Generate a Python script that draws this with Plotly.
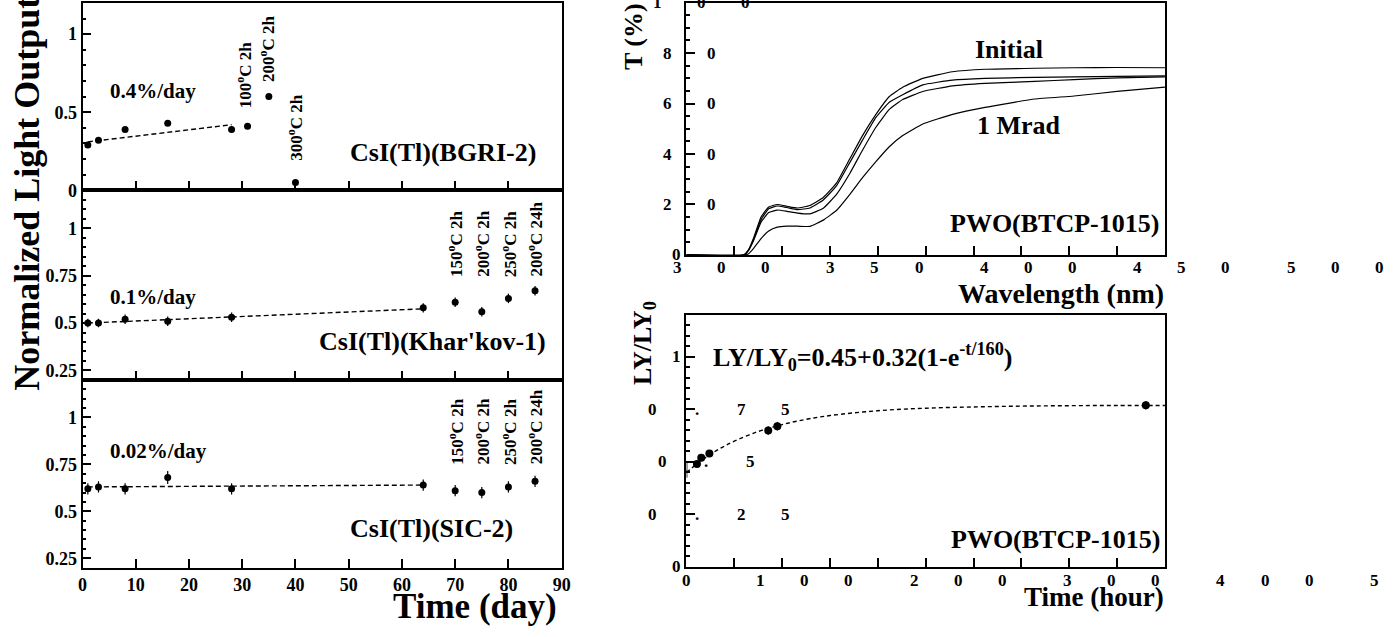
import plotly.graph_objects as go

W, H = 1397, 637
FONT = "Liberation Serif"

# ---------------- data ----------------
# CsI(Tl)(BGRI-2)
bgri_day = [1, 3, 8, 16, 28, 31, 35, 40]
bgri_lo = [0.29, 0.32, 0.39, 0.43, 0.39, 0.41, 0.60, 0.05]
bgri_err = [0.01, 0.01, 0.01, 0.01, 0.01, 0.01, 0.01, 0.01]
bgri_fit_day = [1, 28]
bgri_fit = [0.31, 0.42]
bgri_notes = ["100<sup>o</sup>C 2h", "200<sup>o</sup>C 2h", "300<sup>o</sup>C 2h"]

# CsI(Tl)(Khar'kov-1)
khar_day = [1, 3, 8, 16, 28, 64, 70, 75, 80, 85]
khar_lo = [0.50, 0.50, 0.52, 0.51, 0.53, 0.58, 0.61, 0.56, 0.63, 0.67]
khar_err = [0.022, 0.022, 0.025, 0.025, 0.025, 0.025, 0.025, 0.025, 0.025, 0.025]
khar_fit_day = [1, 64]
khar_fit = [0.50, 0.575]

# CsI(Tl)(SIC-2)
sic_day = [1, 3, 8, 16, 28, 64, 70, 75, 80, 85]
sic_lo = [0.62, 0.63, 0.62, 0.68, 0.62, 0.64, 0.61, 0.60, 0.63, 0.66]
sic_err = [0.03, 0.03, 0.03, 0.035, 0.03, 0.03, 0.03, 0.03, 0.03, 0.03]
sic_fit_day = [1, 64]
sic_fit = [0.63, 0.64]

anneal_notes = ["150<sup>o</sup>C 2h", "200<sup>o</sup>C 2h", "250<sup>o</sup>C 2h", "200<sup>o</sup>C 24h"]
anneal_day = [70, 75, 80, 85]

# PWO transmission (T %, vs wavelength nm)
wl = [300, 360, 365, 370, 378, 386, 395, 405, 416, 429, 443, 457, 471, 484,
      498, 512, 526, 547, 578, 612, 664, 705, 750, 800]
t_initial = [0, 0, 2.0, 6.5, 15.0, 19.0, 20.0, 19.3, 18.6, 19.6, 22.8, 28.6, 38.3, 47.3,
             55.7, 62.8, 66.5, 70.0, 72.6, 73.6, 74.0, 74.2, 74.3, 74.2]
t_dose2 = [0, 0, 2.0, 6.0, 14.0, 18.3, 19.4, 18.8, 18.0, 18.6, 21.8, 27.5, 36.8, 45.5,
           54.5, 60.5, 63.5, 67.4, 69.3, 70.0, 70.4, 70.6, 70.8, 71.0]
t_dose3 = [0, 0, 1.8, 5.5, 13.0, 16.8, 17.8, 17.3, 16.6, 16.3, 18.5, 24.1, 32.5, 41.5,
           50.6, 57.7, 61.6, 64.8, 67.0, 68.0, 68.8, 69.5, 70.2, 70.6]
t_1mrad = [0, 0, 0.5, 2.5, 6.5, 9.5, 11.0, 11.4, 11.4, 11.3, 13.8, 17.7, 24.1, 30.6,
           37.0, 42.9, 47.3, 51.9, 55.7, 58.5, 61.8, 63.0, 64.8, 66.5]

# PWO light-yield recovery (vs hour)
ly_hour = [22, 31, 48, 171, 190, 960]
ly_val = [0.49, 0.52, 0.54, 0.65, 0.67, 0.77]
ly_err = [0.015, 0.015, 0.015, 0.02, 0.02, 0.02]
ly0_hour = [1]          # point on the frame edge: only its error bar shows
ly0_val = [0.46]
ly0_err = [0.035]
ly_fit_hour = [0, 25, 50, 75, 100, 150, 200, 250, 300, 400, 500, 600, 700, 800, 900, 1000]
ly_fit = [0.45, 0.496, 0.536, 0.570, 0.599, 0.645, 0.678, 0.703, 0.721, 0.744,
          0.756, 0.762, 0.766, 0.768, 0.769, 0.769]

# tick labels of the right-hand panels (rendered garbled, as in the source)
wl_tick_labels = ["300", "350", "400", "450", "500", "550", "600", "650", "700", "750", "800"]
t_tick_vals = [0, 20, 40, 60, 80, 100]
t_tick_labels = ["0", "20", "40", "60", "80", "100"]
hour_tick_labels = ["0", "100", "200", "300", "400", "500", "600", "700", "800", "900", "1000"]
lyr_tick_vals = [0, 0.25, 0.5, 0.75, 1]
lyr_tick_labels = ["0", "0.25", "0.5", "0.75", "1"]

# ---------------- layout geometry (pixels) ----------------
LX0, LX1 = 78.3, 562.3
PANELS_Y = [(3.0, 193.3), (193.3, 386.0), (386.0, 576.7)]
RX0, RX1 = 688.3, 1171.7
RT = (2.7, 259.0)
RB = (320.0, 576.0)


def xd(a, b):
    return [a / W, b / W]


def yd(top, bot):
    return [1 - bot / H, 1 - top / H]


fig = go.Figure()

tickfont = dict(family=FONT, size=18, color="black", weight="bold")
common = dict(showline=True, linewidth=1.6, linecolor="black", mirror=True,
              ticks="inside", tickwidth=1.5, tickcolor="black", ticklen=9,
              showgrid=False, zeroline=False, tickfont=tickfont)

mk = dict(color="black", size=7, symbol="circle")
fitline = dict(color="black", width=1.4, dash="5px,3px")


def errbar(arr):
    return dict(type="data", array=arr, visible=True, thickness=1.2, width=0, color="black")


left_sets = [
    (bgri_day, bgri_lo, bgri_err, bgri_fit_day, bgri_fit),
    (khar_day, khar_lo, khar_err, khar_fit_day, khar_fit),
    (sic_day, sic_lo, sic_err, sic_fit_day, sic_fit),
]
for i, (d, v, e, fd, fv) in enumerate(left_sets):
    n = i + 1
    xa = "x" if n == 1 else f"x{n}"
    ya = "y" if n == 1 else f"y{n}"
    fig.add_trace(go.Scatter(x=fd, y=fv, mode="lines", line=fitline, xaxis=xa, yaxis=ya,
                             showlegend=False, hoverinfo="skip"))
    fig.add_trace(go.Scatter(x=d, y=v, mode="markers", marker=mk, error_y=errbar(e),
                             xaxis=xa, yaxis=ya, showlegend=False))

# right top: transmission
for curve in [t_initial, t_dose2, t_dose3, t_1mrad]:
    fig.add_trace(go.Scatter(x=wl, y=curve, mode="lines",
                             line=dict(color="black", width=1.2, shape="spline", smoothing=0.4),
                             xaxis="x4", yaxis="y4", showlegend=False))

# right bottom: light yield
fig.add_trace(go.Scatter(x=ly_fit_hour, y=ly_fit, mode="lines",
                         line=dict(color="black", width=1.4, dash="4px,3px", shape="spline"),
                         xaxis="x5", yaxis="y5", showlegend=False, hoverinfo="skip"))
fig.add_trace(go.Scatter(x=ly0_hour, y=ly0_val, mode="markers",
                         marker=dict(color="black", size=1),
                         error_y=dict(type="data", array=ly0_err, visible=True, thickness=1,
                                      width=0, color="black"),
                         xaxis="x5", yaxis="y5", showlegend=False))
fig.add_trace(go.Scatter(x=ly_hour, y=ly_val, mode="markers",
                         marker=dict(color="black", size=8, line=dict(width=0)),
                         error_y=errbar(ly_err), xaxis="x5", yaxis="y5", showlegend=False))

layout = dict(
    width=W, height=H, margin=dict(l=0, r=0, t=0, b=0),
    paper_bgcolor="white", plot_bgcolor="white", showlegend=False,
)
for i, (top, bot) in enumerate(PANELS_Y):
    n = i + 1
    xk = "xaxis" if n == 1 else f"xaxis{n}"
    yk = "yaxis" if n == 1 else f"yaxis{n}"
    ya = "y" if n == 1 else f"y{n}"
    xa = "x" if n == 1 else f"x{n}"
    layout[xk] = dict(common, domain=xd(LX0, LX1), range=[0, 90], tickmode="linear", tick0=0,
                      dtick=10, anchor=ya, showticklabels=(n == 3))
    if n == 1:
        ydict = dict(range=[0, 1.2], tick0=0, dtick=0.5,
                     minor=dict(dtick=0.1, tick0=0, ticklen=4, ticks="inside", tickwidth=1.5,
                                tickcolor="black"))
    else:
        ydict = dict(range=[0.2, 1.2], tick0=0.25, dtick=0.25,
                     minor=dict(dtick=0.05, tick0=0, ticklen=4, ticks="inside", tickwidth=1.5,
                                tickcolor="black"))
    layout[yk] = dict(common, domain=yd(top, bot), tickmode="linear", anchor=xa, **ydict)

layout["xaxis4"] = dict(common, domain=xd(RX0, RX1), range=[300, 800], tickmode="linear",
                        tick0=300, dtick=50, anchor="y4", showticklabels=False)
layout["yaxis4"] = dict(common, domain=yd(*RT), range=[0, 100], tickmode="linear", tick0=0,
                        dtick=20, anchor="x4", showticklabels=False,
                        minor=dict(dtick=5, tick0=0, ticklen=4, ticks="inside", tickwidth=1.5,
                                   tickcolor="black"))
layout["xaxis5"] = dict(common, domain=xd(RX0, RX1), range=[0, 1000], tickmode="linear",
                        tick0=0, dtick=100, anchor="y5", showticklabels=False)
layout["yaxis5"] = dict(common, domain=yd(*RB), range=[0, 1.2], tickmode="linear", tick0=0,
                        dtick=0.25, anchor="x5", showticklabels=False,
                        minor=dict(dtick=0.05, tick0=0, ticklen=4, ticks="inside", tickwidth=1.5,
                                   tickcolor="black"))
fig.update_layout(**layout)


def txt(s, px, py, size, xanchor="center", yanchor="middle", angle=0):
    fig.add_annotation(text=s, x=px / W, y=1 - py / H, xref="paper", yref="paper",
                       showarrow=False, xanchor=xanchor, yanchor=yanchor, textangle=angle,
                       font=dict(family=FONT, size=size, color="black", weight="bold"))


def note(s, x, y, xa, ya, xshift=0):
    fig.add_annotation(text=s, x=x, y=y, xref=xa, yref=ya, showarrow=False,
                       xanchor="center", yanchor="bottom", textangle=-90, xshift=xshift,
                       font=dict(family=FONT, size=17, color="black", weight="bold"))


# annealing notes
note(bgri_notes[0], bgri_day[5], 0.51, "x", "y", xshift=-4)
note(bgri_notes[1], bgri_day[6], 0.68, "x", "y", xshift=-2)
note(bgri_notes[2], bgri_day[7], 0.18, "x", "y")
for s, d in zip(anneal_notes, anneal_day):
    note(s, d, 0.733, "x2", "y2")
    note(s, d, 0.738, "x3", "y3")

# left panel texts
txt("0.4%/day", 104, 92, 21, xanchor="left")
txt("0.1%/day", 104, 302, 21, xanchor="left")
txt("0.02%/day", 104, 458, 21, xanchor="left")
txt("CsI(Tl)(BGRI-2)", 346, 155, 26, xanchor="left")
txt("CsI(Tl)(Khar'kov-1)", 548, 347, 26, xanchor="right")
txt("CsI(Tl)(SIC-2)", 346, 537, 26, xanchor="left")
txt("Normalized Light Output", 22, 197, 36, angle=-90)
txt("Time (day)", 560, 616, 35, xanchor="right")

# right panel texts
txt("Initial", 978, 50, 26, xanchor="left")
txt("1 Mrad", 980, 127, 26, xanchor="left")
txt("PWO(BTCP-1015)", 1168, 227, 26, xanchor="right")
txt("Wavelength (nm)", 1173, 298, 28, xanchor="right")
txt("T (%)", 635, 37, 26, angle=-90)
txt("LY/LY<sub>0</sub>=0.45+0.32(1-e<sup>-t/160</sup>)", 713, 363, 26, xanchor="left")
txt("PWO(BTCP-1015)", 1169, 548, 26, xanchor="right")
txt("Time (hour)", 1173, 607, 27, xanchor="right")
txt("LY/LY<sub>0</sub>", 645, 349, 26, angle=-90)

# garbled tick labels of the right-hand panels
ADV = 44.5       # advance per character
SPACE = 21.5     # extra advance between labels in a run
CW = {".": 4.75}


def cw(c):
    return CW.get(c, 9.5)


def garbled_y(vals, labels, top, bot, r0, r1):
    for v, lab in zip(vals, labels):
        py = bot - (v - r0) / (r1 - r0) * (bot - top)
        x = RX0 - 5.3 - sum(cw(c) for c in lab) + cw(lab[0]) / 2
        for i, c in enumerate(lab):
            txt(c, x + i * ADV, py, 17)


def garbled_run(labels, start, py):
    x = start
    for lab in labels:
        for c in lab:
            if x < W - 4:
                txt(c, x, py, 17)
            x += ADV
        x += SPACE


garbled_y(t_tick_vals, t_tick_labels, RT[0], RT[1], 0, 100)
garbled_y(lyr_tick_vals, lyr_tick_labels, RB[0], RB[1], 0, 1.2)
garbled_run(wl_tick_labels, 679.3, 272)
garbled_run(hour_tick_labels[:1], RX0, 590)
garbled_run(hour_tick_labels[1:], 763.3, 590)

fig.write_html("out.html", config={"displayModeBar": False},
               post_script="document.body.style.margin='0';")
